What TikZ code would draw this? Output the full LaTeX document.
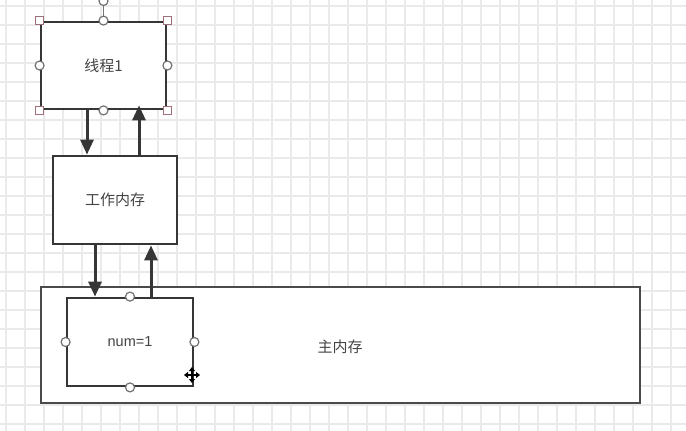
\documentclass[tikz,border=0pt]{standalone}
\usepackage{fontspec}
\newfontfamily\cjk{Noto Sans CJK SC}
\setmainfont{Liberation Sans}
\usetikzlibrary{arrows.meta}
\definecolor{gridc}{HTML}{EAEAEA}
\definecolor{ink}{HTML}{363636}
\definecolor{txt}{HTML}{444444}
\definecolor{hpink}{HTML}{A07078}
\tikzset{
  box/.style={draw=ink, line width=2.8pt, fill=white, inner sep=0pt, text=txt, font=\cjk\fontsize{15}{17}\selectfont},
  arr/.style={draw=ink, line width=3pt, -{Triangle[length=15pt,width=13pt]}},
  hcirc/.style={circle, draw=ink!70, line width=1.2pt, fill=white, minimum size=9pt, inner sep=0pt},
  hsq/.style={rectangle, draw=hpink, line width=1.2pt, fill=white, minimum size=8.5pt, inner sep=0pt},
}
\begin{document}
\begin{tikzpicture}[x=1pt,y=-1pt]
\useasboundingbox (0,0) rectangle (686,431);
\fill[white] (0,0) rectangle (686,431);
% grid
\foreach \gx in {6,25,...,686} \draw[gridc, line width=1.1pt] (\gx,0) -- (\gx,431);
\foreach \gy in {6,25,...,431} \draw[gridc, line width=1.1pt] (0,\gy) -- (686,\gy);

% boxes
\node[box, minimum width=125pt, minimum height=87pt] (t1) at (103.5,65.5) {线程1};
\node[box, minimum width=124pt, minimum height=88pt] (wm) at (115,200) {工作内存};
\node[box, minimum width=599pt, minimum height=116pt, draw=ink!90] (mm) at (340.5,345) {};
\node[text=txt, font=\cjk\fontsize{15}{17}\selectfont] (mmlabel) at (340,347) {主内存};
\node[box, minimum width=126pt, minimum height=88pt, font=\fontsize{14.5}{17}\selectfont] (num) at (130,342) {num=1};

% arrows
\draw[arr] (t1.south -| 87,0) -- (wm.north -| 87,0);
\draw[arr] (wm.north -| 139,0) -- ([yshift=5pt]t1.south -| 139,0);
\draw[arr] (wm.south -| 95,0) -- (num.north -| 95,0);
\draw[arr] (num.north -| 151,0) -- (wm.south -| 151,0);

% selection handles of 线程1
\coordinate (rot) at (103.5,1);
\draw[ink!70, line width=1.2pt] (t1.north) -- (rot);
\node[hcirc] (rh) at (rot) {};
\node[hsq] (c1) at (t1.north west) {};
\node[hsq] (c2) at (t1.north east) {};
\node[hsq] (c3) at (t1.south west) {};
\node[hsq] (c4) at (t1.south east) {};
\node[hcirc] (h1) at (t1.north) {};
\node[hcirc] (h2) at (t1.south) {};
\node[hcirc] (h3) at (t1.west) {};
\node[hcirc] (h4) at (t1.east) {};

% connection points of num box
\node[hcirc] (n1) at (num.north) {};
\node[hcirc] (n2) at (num.south) {};
\node[hcirc] (n3) at (num.west) {};
\node[hcirc] (n4) at (num.east) {};

% move cursor
\coordinate (cur) at (192,375);
\draw[black, line width=2pt, {Triangle[length=4pt,width=6pt]}-{Triangle[length=4pt,width=6pt]}] ([xshift=-8pt]cur) -- ([xshift=8pt]cur);
\draw[black, line width=2pt, {Triangle[length=4pt,width=6pt]}-{Triangle[length=4pt,width=6pt]}] ([yshift=-8pt]cur) -- ([yshift=8pt]cur);
\end{tikzpicture}
\end{document}
